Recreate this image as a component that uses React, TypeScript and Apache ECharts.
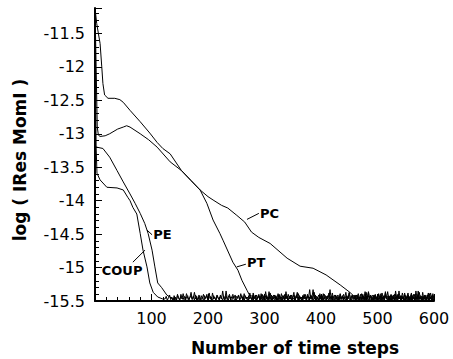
import React, { useEffect, useRef } from "react";
import * as echarts from "echarts";

// ---- data ----
const pcX = [0, 3, 6, 9, 12, 14, 17, 23, 35, 44, 50, 62, 80, 97, 110, 120, 133, 153, 170, 186, 200, 209, 224, 235, 251, 265, 277, 290, 310, 340, 363, 386, 409, 434, 451, 460];
const pcY = [-11.12, -11.35, -11.5, -11.65, -12.0, -12.25, -12.42, -12.47, -12.47, -12.49, -12.53, -12.65, -12.82, -12.99, -13.13, -13.22, -13.3, -13.55, -13.7, -13.84, -13.94, -13.99, -14.07, -14.11, -14.22, -14.32, -14.47, -14.55, -14.64, -14.86, -14.98, -15.01, -15.11, -15.26, -15.37, -15.44];

const ptX = [0, 2, 4, 6, 9, 18, 26, 40, 50, 56, 62, 80, 95, 110, 133, 153, 170, 186, 198, 209, 221, 227, 244, 253, 260, 269, 274];
const ptY = [-11.12, -12.0, -12.9, -13.02, -13.04, -13.03, -13.0, -12.93, -12.9, -12.88, -12.9, -13.0, -13.09, -13.2, -13.42, -13.55, -13.7, -13.84, -14.04, -14.29, -14.49, -14.6, -14.92, -15.04, -15.19, -15.34, -15.42];

const peX = [0, 3, 14, 26, 39, 50, 62, 71, 80, 88, 94, 101, 106, 111, 118, 127, 136];
const peY = [-13.18, -13.2, -13.22, -13.35, -13.55, -13.72, -13.9, -14.04, -14.19, -14.34, -14.49, -14.74, -14.99, -15.23, -15.3, -15.41, -15.46];

const coupX = [0, 1, 2, 3.5, 9, 21, 39, 50, 58, 62, 67, 74, 80, 85, 92, 97, 103, 111, 120];
const coupY = [-11.12, -12.3, -13.2, -13.59, -13.69, -13.8, -13.81, -13.84, -13.95, -14.0, -14.1, -14.2, -14.49, -14.74, -14.99, -15.23, -15.37, -15.44, -15.47];

// converged residual noise floor, one value every 2 time steps
const noiseFloor = [
  -15.47, -15.43, -15.49, -15.45, -15.41, -15.48, -15.44, -15.5, -15.42, -15.46,
  -15.49, -15.4, -15.45, -15.48, -15.43, -15.47, -15.39, -15.46, -15.5, -15.44,
  -15.42, -15.48, -15.45, -15.37, -15.47, -15.43, -15.49, -15.41, -15.46, -15.48,
  -15.44, -15.5, -15.42, -15.46, -15.4, -15.48, -15.45, -15.43, -15.49, -15.38,
  -15.47, -15.44, -15.5, -15.42, -15.46, -15.48, -15.41, -15.45, -15.49, -15.43,
  -15.47, -15.35, -15.46, -15.49, -15.42, -15.48, -15.44, -15.4, -15.47, -15.5,
  -15.43, -15.46, -15.41, -15.49, -15.45, -15.42, -15.48, -15.39, -15.46, -15.44,
  -15.5, -15.42, -15.47, -15.44, -15.49, -15.38, -15.45, -15.48, -15.41, -15.46,
  -15.43, -15.49, -15.45, -15.4, -15.48, -15.44, -15.5, -15.42, -15.47, -15.36,
  -15.46, -15.49, -15.43, -15.47, -15.41, -15.48, -15.45, -15.5, -15.42, -15.46,
  -15.39, -15.48, -15.44, -15.49, -15.42, -15.46, -15.4, -15.47, -15.43, -15.5,
  -15.45, -15.41, -15.48, -15.44, -15.37, -15.49, -15.43, -15.46, -15.5, -15.42,
  -15.47, -15.44, -15.49, -15.4, -15.46, -15.48, -15.42, -15.45, -15.33, -15.47,
  -15.43, -15.5, -15.45, -15.41, -15.48, -15.44, -15.49, -15.39, -15.46, -15.42,
  -15.48, -15.45, -15.5, -15.43, -15.47, -15.38, -15.46, -15.49, -15.42, -15.45,
  -15.41, -15.48, -15.44, -15.5, -15.46, -15.4, -15.47, -15.43, -15.49, -15.45,
  -15.37, -15.48, -15.42, -15.46, -15.5, -15.44, -15.41, -15.47, -15.43, -15.49,
  -15.45, -15.39, -15.48, -15.44, -15.5, -15.42, -15.46, -15.36, -15.47, -15.43,
  -15.49, -15.45, -15.41, -15.48, -15.44, -15.5, -15.4, -15.46, -15.42, -15.47,
  -15.44, -15.49, -15.38, -15.45, -15.48, -15.42, -15.46, -15.5, -15.43, -15.47,
  -15.4, -15.48, -15.44, -15.49, -15.35, -15.46, -15.42, -15.47, -15.45, -15.5,
  -15.43, -15.47, -15.41, -15.49, -15.44, -15.38, -15.48, -15.45, -15.5, -15.42,
  -15.46, -15.4, -15.48, -15.44, -15.49, -15.37, -15.47, -15.43, -15.5, -15.45,
  -15.41, -15.48, -15.44, -15.49, -15.39, -15.46, -15.42, -15.5, -15.45, -15.47,
  -15.43, -15.49, -15.36, -15.46, -15.48, -15.42, -15.47, -15.44, -15.5, -15.45,
];
const noiseStep = 2;
// where each curve joins the noise floor, and which part of the floor it follows
const tailStart = { PC: 464, PT: 280, PE: 140, COUP: 124 };
const tailOffset = { PC: 150, PT: 60, PE: 5, COUP: 0 };

// curve labels: text anchor and leader line ends, in data units
const labelNames = ["PC", "PT", "PE", "COUP"];
const labelAt = [[292, -14.19], [269, -14.93], [103, -14.5], [12, -15.04]];
const leaderFrom = [[269, -14.28], [251, -14.99], [92, -14.44], [67, -14.92]];
const leaderTo = [[290, -14.19], [267, -14.95], [101, -14.51], [88.5, -14.74]];

const xTitle = "Number of time steps";
const yTitle = "log ( IRes MomI )";

function buildSeries(xs: number[], ys: number[], start: number, offset: number) {
  const pts: number[][] = xs.map((x, i) => [x, ys[i]]);
  for (let i = offset; i < noiseFloor.length; i++) {
    const x = start + (i - offset) * noiseStep;
    if (x > 600) break;
    pts.push([x, noiseFloor[i]]);
  }
  return pts;
}

export default function App() {
  const ref = useRef<HTMLDivElement>(null);
  useEffect(() => {
    if (!ref.current) return;
    const chart = echarts.init(ref.current, undefined, { renderer: "svg" });
    const font = "DejaVu Sans";
    const lineSeries = (name: string, data: number[][]) => ({
      name,
      type: "line",
      data,
      showSymbol: false,
      symbol: "none",
      lineStyle: { color: "#000", width: 1 },
      silent: true,
      clip: true,
    });
    const axisCommon = {
      axisLine: { show: true, onZero: false, lineStyle: { color: "#000", width: 2 } },
      axisTick: { show: true, inside: true, length: 7, lineStyle: { color: "#000", width: 1 } },
      minorTick: { show: true, splitNumber: 5, length: 4, lineStyle: { color: "#000", width: 1 } },
      splitLine: { show: false },
      minorSplitLine: { show: false },
    };
    chart.setOption({
      animation: false,
      backgroundColor: "#fff",
      grid: { left: 95, right: 19, top: 8, bottom: 58, containLabel: false },
      xAxis: {
        type: "value",
        min: 0,
        max: 600,
        interval: 100,
        ...axisCommon,
        axisLabel: { showMinLabel: false, color: "#000", fontFamily: font, fontSize: 16, margin: 9 },
      },
      yAxis: {
        type: "value",
        min: -15.5,
        max: -11.12,
        interval: 0.5,
        ...axisCommon,
        axisLabel: { showMaxLabel: false, color: "#000", fontFamily: font, fontSize: 16, margin: 10 },
      },
      series: [
        lineSeries("PC", buildSeries(pcX, pcY, tailStart.PC, tailOffset.PC)),
        lineSeries("PT", buildSeries(ptX, ptY, tailStart.PT, tailOffset.PT)),
        lineSeries("PE", buildSeries(peX, peY, tailStart.PE, tailOffset.PE)),
        lineSeries("COUP", buildSeries(coupX, coupY, tailStart.COUP, tailOffset.COUP)),
      ],
    });

    const toPx = (p: number[]) => chart.convertToPixel({ gridIndex: 0 }, p) as number[];
    const graphics: any[] = [];
    labelNames.forEach((name, i) => {
      const a = toPx(leaderFrom[i]);
      const b = toPx(leaderTo[i]);
      const t = toPx(labelAt[i]);
      graphics.push({
        type: "line",
        silent: true,
        shape: { x1: a[0], y1: a[1], x2: b[0], y2: b[1] },
        style: { stroke: "#000", lineWidth: 1 },
      });
      graphics.push({
        type: "text",
        silent: true,
        x: t[0],
        y: t[1],
        style: {
          text: name,
          x: 0,
          y: 0,
          fill: "#000",
          font: `bold 13px "${font}"`,
          textAlign: "left",
          textVerticalAlign: "middle",
          align: "left",
          verticalAlign: "middle",
        },
      });
    });
    graphics.push({
      type: "text",
      silent: true,
      x: 295,
      y: 348,
      style: {
        text: xTitle,
        fill: "#000",
        font: `bold 17px "${font}"`,
        textAlign: "center",
        textVerticalAlign: "middle",
        align: "center",
        verticalAlign: "middle",
      },
    });
    graphics.push({
      type: "text",
      silent: true,
      x: 20,
      y: 160,
      rotation: Math.PI / 2,
      style: {
        text: yTitle,
        fill: "#000",
        font: `bold 17px "${font}"`,
        textAlign: "center",
        textVerticalAlign: "middle",
        align: "center",
        verticalAlign: "middle",
      },
    });
    chart.setOption({ graphic: graphics });

    return () => chart.dispose();
  }, []);
  return (
    <div
      ref={ref}
      style={{ position: "fixed", left: 0, top: 0, width: 453, height: 359, background: "#fff" }}
    />
  );
}
